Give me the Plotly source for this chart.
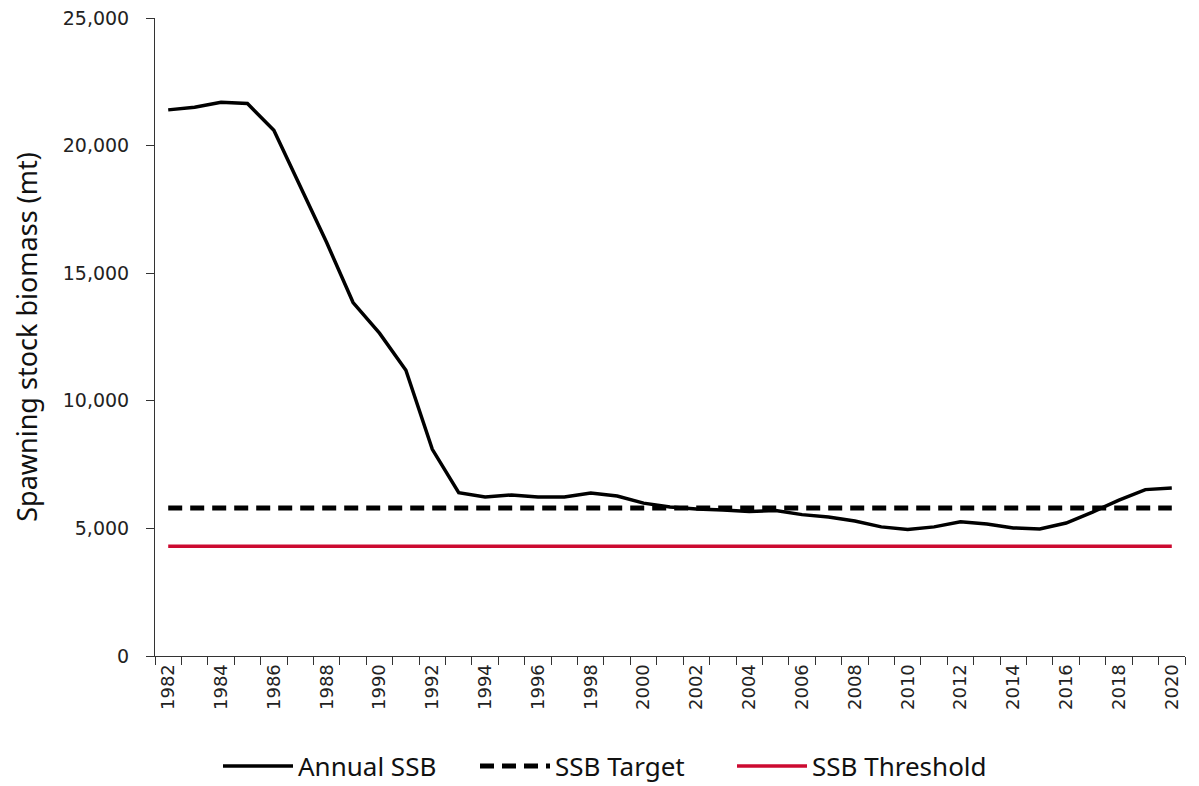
import plotly.graph_objects as go

years = list(range(1982, 2021))
annual_ssb = [21400, 21500, 21700, 21650, 20600, 18400, 16200, 13850, 12650, 11200,
              8100, 6400, 6230, 6310, 6230, 6230, 6390, 6270, 5990, 5840,
              5760, 5720, 5660, 5700, 5540, 5450, 5290, 5060, 4960, 5060,
              5260, 5170, 5020, 4980, 5210, 5640, 6110, 6520, 6580]
ssb_target = 5800
ssb_threshold = 4300

TICK_FONT = "DejaVu Sans"
TEXT_FONT = "Noto Sans"
RED = "#CC0A30"

fig = go.Figure()
fig.add_trace(go.Scatter(
    x=years, y=annual_ssb, mode="lines", name="Annual SSB",
    line=dict(color="black", width=3.5),
))
fig.add_trace(go.Scatter(
    x=years, y=[ssb_target] * len(years), mode="lines", name="SSB Target",
    line=dict(color="black", width=5, dash="14px,8px"),
))
fig.add_trace(go.Scatter(
    x=years, y=[ssb_threshold] * len(years), mode="lines", name="SSB Threshold",
    line=dict(color=RED, width=3.5),
))

# page body has an 8px margin, so the figure is sized to the visible window
fig.update_layout(
    width=1191, height=778,
    margin=dict(l=147, r=14, t=10, b=130, autoexpand=False),
    paper_bgcolor="white", plot_bgcolor="white",
    font=dict(family=TEXT_FONT, color="#222"),
    legend=dict(
        orientation="h", xref="container", yref="container",
        x=210 / 1191, xanchor="left", y=20 / 778, yanchor="middle",
        font=dict(family=TEXT_FONT, size=26, color="#111"),
        itemwidth=70, entrywidth=172, entrywidthmode="pixels", traceorder="normal",
    ),
)
fig.update_xaxes(
    range=[1981.5, 2020.5], automargin=False,
    tickvals=years[::2], ticktext=[str(y) for y in years[::2]],
    tickangle=-90, tickfont=dict(family=TICK_FONT, size=18, color="#222"),
    ticks="", showgrid=False, zeroline=False,
    showline=True, linecolor="#333", linewidth=1,
    minor=dict(tick0=1981.5, dtick=1, ticks="outside", ticklen=8, tickcolor="#333", showgrid=False),
)
fig.update_yaxes(
    range=[0, 25000], dtick=5000, tickformat=",", automargin=False,
    tickfont=dict(family=TICK_FONT, size=19, color="#222"),
    ticks="outside", ticklen=8, tickcolor="#333", ticklabelstandoff=13,
    ticklabeloverflow="allow",
    showgrid=False, zeroline=False,
    showline=True, linecolor="#333", linewidth=1,
    title=dict(text="Spawning stock biomass (mt)", font=dict(family=TEXT_FONT, size=27, color="#111"), standoff=30),
)

fig.write_html("out.html")
